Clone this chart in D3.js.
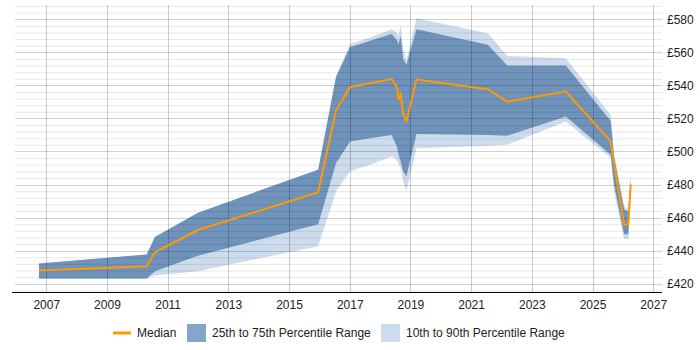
<!DOCTYPE html>
<html>
<head>
<meta charset="utf-8">
<script src="https://cdn.jsdelivr.net/npm/d3@7"></script>
<style>
  body { margin: 0; background: #fff; }
  text { font-family: "Liberation Sans", Arial, sans-serif; }
</style>
</head>
<body>
<div id="chart"></div>
<script>
// Chart values (decimal years, £ per day)
const years = [2006.76, 2010.31, 2010.58, 2012.00, 2015.96, 2016.55, 2017.01, 2017.67, 2018.38, 2018.55,
    2018.61, 2018.68, 2018.76, 2018.87, 2019.20, 2021.55, 2022.19, 2024.12, 2025.60, 2025.71,
    2026.04, 2026.18, 2026.26];
const p10 = [423.2, 423.2, 425, 427.6, 442.7, 476, 488, 492, 497, 495,
    492, 490, 482, 476, 502, 503.5, 504, 518.2, 496, 476,
    447, 447, 478];
const p25 = [423.2, 423.2, 427.6, 437, 456, 493, 506, 508, 510, 503,
    498, 494, 488, 485, 510.5, 510, 509.5, 521.2, 498, 480,
    450, 450, 479];
const median = [428, 430.6, 439, 452.5, 475.3, 525, 539, 541.3, 543.8, 539,
    531.3, 535.3, 522.2, 518.2, 543.5, 537.7, 530.2, 536.3, 506.1, 493,
    455.8, 455.8, 480];
const p75 = [432.2, 437.7, 448.2, 463, 489, 545, 563, 567, 571, 567.5,
    565, 570, 556, 552.4, 574, 564.5, 552, 552, 518.5, 497,
    465, 463.5, 483];
const p90 = [432.2, 437.7, 448.2, 463, 489, 546, 565, 569, 574, 572,
    570, 576.6, 562, 555.4, 580.6, 571.5, 557.8, 556.4, 522, 499,
    467, 465, 486];

const yearTicks = [2007, 2009, 2011, 2013, 2015, 2017, 2019, 2021, 2023, 2025, 2027];
const payTicks = [420, 440, 460, 480, 500, 520, 540, 560, 580];

const width = 700;
const height = 350;

const svg = d3.select("#chart")
    .append("svg")
    .attr("width", width)
    .attr("height", height);

// Scales, plot runs from x=15 to 662 and y=5 to 292
const x = d3.scaleLinear()
    .domain([2005.97, 2027.29])
    .range([15, 662]);
const y = d3.scaleLinear()
    .domain([415, 588.6])
    .range([292, 5]);

// Zip the arrays into rows for the area and line generators
const rows = years.map((yr, i) => ({
    yr: yr, p10: p10[i], p25: p25[i], med: median[i], p75: p75[i], p90: p90[i]
}));

// Light band first (10th to 90th), then dark band (25th to 75th)
const outerArea = d3.area()
    .x(d => x(d.yr))
    .y0(d => y(d.p10))
    .y1(d => y(d.p90));
const innerArea = d3.area()
    .x(d => x(d.yr))
    .y0(d => y(d.p25))
    .y1(d => y(d.p75));

svg.append("path")
    .datum(rows)
    .attr("d", outerArea)
    .attr("fill", "#ccdcec");

svg.append("path")
    .datum(rows)
    .attr("d", innerArea)
    .attr("fill", "#6f93bb");

// Gridlines sit over the bands, semi transparent so they show through
const minorVals = d3.range(416, 589, 4).filter(v => v % 20 !== 0);
svg.append("g")
    .selectAll("line")
    .data(minorVals)
    .enter()
    .append("line")
    .attr("x1", 15)
    .attr("x2", 662)
    .attr("y1", d => y(d) + 0.5)
    .attr("y2", d => y(d) + 0.5)
    .attr("stroke", "rgba(0,0,0,0.09)");

svg.append("g")
    .selectAll("line")
    .data(payTicks)
    .enter()
    .append("line")
    .attr("x1", 15)
    .attr("x2", 662)
    .attr("y1", d => Math.round(y(d)) + 0.5)
    .attr("y2", d => Math.round(y(d)) + 0.5)
    .attr("stroke", "rgba(0,0,0,0.18)");

svg.append("g")
    .selectAll("line")
    .data(yearTicks)
    .enter()
    .append("line")
    .attr("x1", d => Math.round(x(d)) + 0.5)
    .attr("x2", d => Math.round(x(d)) + 0.5)
    .attr("y1", 5)
    .attr("y2", 292)
    .attr("stroke", "rgba(0,0,0,0.2)");

// Median line
const medLine = d3.line()
    .x(d => x(d.yr))
    .y(d => y(d.med));

svg.append("path")
    .datum(rows)
    .attr("d", medLine)
    .attr("fill", "none")
    .attr("stroke", "#ff9900")
    .attr("stroke-width", 2)
    .attr("stroke-linejoin", "round");

// Bottom axis, just the line and labels
const xAxis = svg.append("g")
    .attr("transform", "translate(0,292)")
    .call(d3.axisBottom(x).tickValues(yearTicks).tickFormat(d3.format("d")).tickSize(0).tickPadding(8));
xAxis.select(".domain").attr("stroke", "#000").attr("d", "M12,0.5H662");
xAxis.selectAll("text").attr("font-size", 12).attr("fill", "#222")
    .style("font-family", "'Liberation Sans', Arial, sans-serif");

// Right axis labels
const yAxis = svg.append("g")
    .attr("transform", "translate(662,0)")
    .call(d3.axisRight(y).tickValues(payTicks).tickFormat(d => "£" + d).tickSize(0).tickPadding(5));
yAxis.select(".domain").remove();
yAxis.selectAll("text").attr("font-size", 12).attr("fill", "#222")
    .style("font-family", "'Liberation Sans', Arial, sans-serif");

// Legend along the bottom
const legend = svg.append("g").attr("transform", "translate(0,333)");

legend.append("line")
    .attr("x1", 113).attr("x2", 131)
    .attr("y1", 0).attr("y2", 0)
    .attr("stroke", "#ff9900")
    .attr("stroke-width", 3);
legend.append("text")
    .attr("x", 137).attr("y", 0).attr("dy", "0.35em")
    .attr("font-size", 12).attr("fill", "#222")
    .text("Median");

legend.append("rect")
    .attr("x", 187).attr("y", -9).attr("width", 19).attr("height", 18)
    .attr("fill", "#87a5c8");
legend.append("text")
    .attr("x", 212).attr("y", 0).attr("dy", "0.35em")
    .attr("font-size", 12).attr("fill", "#222")
    .text("25th to 75th Percentile Range");

legend.append("rect")
    .attr("x", 381).attr("y", -9).attr("width", 19).attr("height", 18)
    .attr("fill", "#ccdcec");
legend.append("text")
    .attr("x", 406).attr("y", 0).attr("dy", "0.35em")
    .attr("font-size", 12).attr("fill", "#222")
    .text("10th to 90th Percentile Range");
</script>
</body>
</html>
